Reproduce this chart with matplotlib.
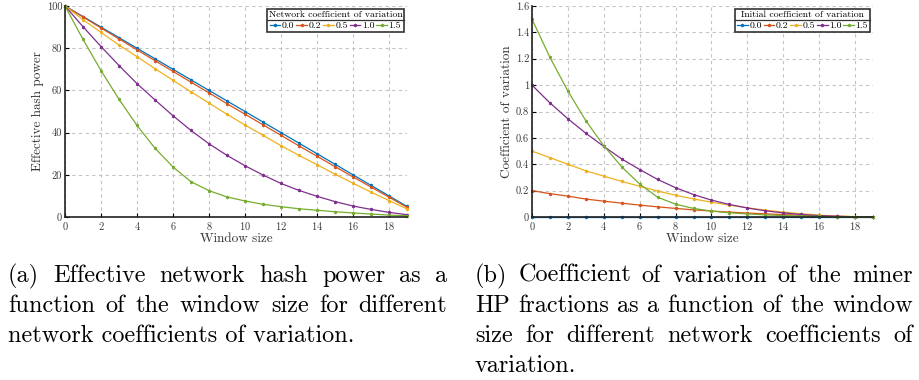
import numpy as np
import matplotlib
matplotlib.use("Agg")
import matplotlib.pyplot as plt
from matplotlib.lines import Line2D
from matplotlib.ticker import FuncFormatter

plt.rcParams['font.family'] = ['cmr10', 'DejaVu Serif']
plt.rcParams['axes.formatter.use_mathtext'] = True

# window sizes
window = np.arange(0, 20)
cv_labels = ['0.0', '0.2', '0.5', '1.0', '1.5']
colors = ['#0072BD', '#D95319', '#EDB120', '#7E2F8E', '#77AC30']

# (a) effective hash power per network coefficient of variation
hp_00 = [100, 95, 90, 85, 80, 75, 70, 65, 60, 55, 50, 45, 40, 35, 30, 25, 20, 15, 10, 5]
hp_02 = [100, 94.8, 89.6, 84.4, 79.2, 74.1, 69.0, 63.9, 58.8, 53.7, 48.7, 43.7, 38.7, 33.7,
         28.8, 23.9, 19.0, 14.2, 9.4, 4.6]
hp_05 = [100, 93.5, 87.5, 81.5, 76.0, 70.3, 64.8, 59.3, 54.0, 48.7, 43.6, 38.7, 33.8, 29.2,
         24.8, 20.3, 16.0, 11.8, 7.8, 3.8]
hp_10 = [100, 90.2, 80.8, 71.8, 63.2, 55.5, 48.0, 41.0, 34.7, 29.2, 24.3, 19.9, 15.9, 12.6,
         9.8, 7.3, 5.2, 3.6, 2.2, 1.1]
hp_15 = [100, 84.2, 69.4, 55.8, 43.4, 32.6, 23.7, 16.7, 12.5, 9.5, 7.6, 6.0, 4.9, 3.9,
         3.2, 2.5, 1.9, 1.4, 0.9, 0.6]

# (b) coefficient of variation of miner HP fractions
cv_00 = [0.0] * 20
cv_02 = [0.2, 0.177, 0.158, 0.136, 0.12, 0.105, 0.09, 0.077, 0.065, 0.054, 0.045, 0.037,
         0.03, 0.024, 0.018, 0.013, 0.009, 0.005, 0.002, 0.0]
cv_05 = [0.5, 0.45, 0.4, 0.35, 0.31, 0.27, 0.233, 0.197, 0.165, 0.137, 0.112, 0.09, 0.07,
         0.052, 0.037, 0.025, 0.014, 0.007, 0.003, 0.0]
cv_10 = [1.0, 0.865, 0.745, 0.635, 0.535, 0.44, 0.36, 0.285, 0.222, 0.17, 0.128, 0.095,
         0.068, 0.047, 0.031, 0.019, 0.011, 0.005, 0.002, 0.0]
cv_15 = [1.5, 1.21, 0.955, 0.73, 0.54, 0.38, 0.25, 0.15, 0.097, 0.065, 0.045, 0.032,
         0.023, 0.016, 0.011, 0.007, 0.004, 0.002, 0.001, 0.0]

caption_a = ["(a) Effective network hash power as a",
             "function of the window size for different",
             "network coefficients of variation."]
caption_b = ["(b) Coefficient of variation of the miner",
             "HP fractions as a function of the window",
             "size for different network coefficients of",
             "variation."]

W, H = 920, 380
fig = plt.figure(figsize=(W / 100, H / 100), dpi=100)
ax1 = fig.add_axes([65 / W, 1 - 217 / H, 342 / W, 211 / H])
ax2 = fig.add_axes([532 / W, 1 - 217 / H, 341 / W, 211 / H])

tick_col = '#3a3a3a'


def style_axis(ax, yticks, ylabel):
    ax.set_xlim(0, 19)
    ax.set_xticks(np.arange(0, 19, 2))
    ax.set_yticks(yticks)
    ax.set_ylim(yticks[0], yticks[-1])
    ax.yaxis.set_major_formatter(FuncFormatter(lambda v, p: '%g' % round(v, 2)))
    ax.grid(True, linestyle=(0, (3, 3)), color='#c4c4c4', linewidth=0.8)
    ax.set_axisbelow(True)
    for s in ['top', 'right']:
        ax.spines[s].set_visible(False)
    for s in ['left', 'bottom']:
        ax.spines[s].set_linewidth(1.2)
        ax.spines[s].set_color('#222222')
    ax.tick_params(direction='in', length=3, width=0.8, labelsize=7.5,
                   labelcolor=tick_col, pad=2)
    ax.set_xlabel('Window size', fontsize=9.5, color='#333333', labelpad=0.5)
    ax.set_ylabel(ylabel, fontsize=9.5, color='#333333', labelpad=2)


def plot_series(ax, series):
    for y, c, lab in zip(series, colors, cv_labels):
        ax.plot(window, y, color=c, linewidth=0.9, marker=(6, 2, 0),
                markersize=2.5, markeredgewidth=0.45, label=lab, clip_on=False)


plot_series(ax1, [hp_00, hp_02, hp_05, hp_10, hp_15])
plot_series(ax2, [cv_00, cv_02, cv_05, cv_10, cv_15])
style_axis(ax1, np.arange(0, 101, 20), 'Effective hash power')
style_axis(ax2, np.round(np.arange(0, 1.61, 0.2), 1), 'Coefficient of variation')

legends = []
for ax, title in [(ax1, 'Network coefficient of variation'),
                  (ax2, 'Initial coefficient of variation')]:
    leg = ax.legend(title=title, loc='upper right', ncol=5, fontsize=7, title_fontsize=7,
                    handlelength=1.1, handletextpad=0.15, columnspacing=0.2,
                    borderpad=0.2, borderaxespad=0.3, fancybox=False, framealpha=1,
                    edgecolor='#333333', labelspacing=0.2)
    leg.get_frame().set_linewidth(1.2)
    legends.append(leg)

fig.canvas.draw()
renderer = fig.canvas.get_renderer()

# separator line between legend title and entries
for leg in legends:
    fb = leg.get_frame().get_window_extent(renderer)
    tb = leg._legend_title_box.get_window_extent(renderer)
    ysep = (tb.y0 - 1.0) / H
    fig.add_artist(Line2D([fb.x0 / W, fb.x1 / W], [ysep, ysep], color='#333333',
                          linewidth=0.9, transform=fig.transFigure))

# justified captions
cap_size = 17.5
line_h = 30


def draw_caption(lines, left, right, top):
    for i, line in enumerate(lines):
        y = 1 - (top + i * line_h) / H
        words = line.split()
        if i == len(lines) - 1:
            fig.text(left / W, y, line, fontsize=cap_size, va='baseline', ha='left')
            continue
        widths = []
        for w in words:
            t = fig.text(0, 0, w, fontsize=cap_size)
            widths.append(t.get_window_extent(renderer).width)
            t.remove()
        gap = (right - left - sum(widths)) / (len(words) - 1)
        x = left
        for w, wd in zip(words, widths):
            fig.text(x / W, y, w, fontsize=cap_size, va='baseline', ha='left')
            x += wd + gap


draw_caption(caption_a, 8, 447, 282)
draw_caption(caption_b, 475, 913, 282)

fig.savefig('out.png', dpi=100)
